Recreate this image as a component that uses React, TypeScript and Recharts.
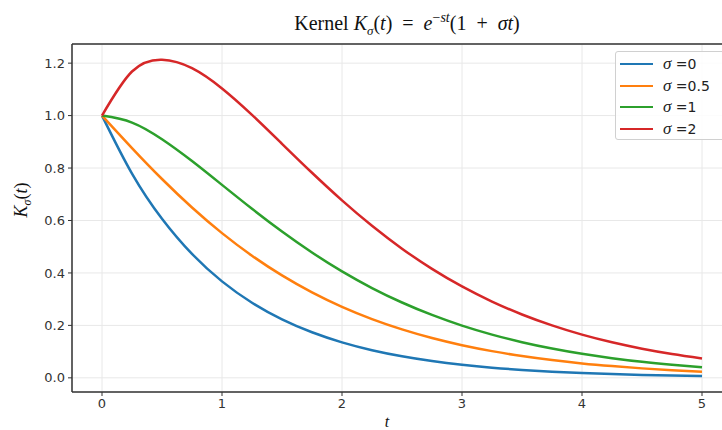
import React from "react";
import { LineChart, Line, XAxis, YAxis, CartesianGrid, ReferenceLine, Legend, Label } from "recharts";

const tValues = [0, 0.25, 0.5, 0.75, 1, 1.25, 1.5, 1.75, 2, 2.25, 2.5, 2.75, 3, 3.25, 3.5, 3.75, 4, 4.25, 4.5, 4.75, 5];
const sigma0 = [1, 0.7788, 0.6065, 0.4724, 0.3679, 0.2865, 0.2231, 0.1738, 0.1353, 0.1054, 0.0821, 0.0639, 0.0498, 0.0388, 0.0302, 0.0235, 0.0183, 0.0143, 0.0111, 0.0087, 0.0067];
const sigma05 = [1, 0.8762, 0.7582, 0.6496, 0.5518, 0.4656, 0.3905, 0.3259, 0.2707, 0.224, 0.1847, 0.1518, 0.1245, 0.1019, 0.083, 0.0676, 0.0549, 0.0447, 0.0361, 0.0294, 0.0236];
const sigma1 = [1, 0.9735, 0.9098, 0.8267, 0.7358, 0.6446, 0.5578, 0.4779, 0.406, 0.3425, 0.2873, 0.2398, 0.1991, 0.1649, 0.1359, 0.1117, 0.0916, 0.0751, 0.0611, 0.05, 0.0404];
const sigma2 = [1, 1.1682, 1.2131, 1.181, 1.1036, 1.0028, 0.8925, 0.782, 0.6767, 0.5797, 0.4925, 0.4156, 0.3485, 0.2909, 0.2416, 0.2, 0.1648, 0.1355, 0.1111, 0.0909, 0.0741];

const xTicks = [0, 1, 2, 3, 4, 5];
const yTicks = [0, 0.2, 0.4, 0.6, 0.8, 1.0, 1.2];

const seriesInfo = [
  { key: "s0", label: "=0", color: "#1f77b4", values: sigma0 },
  { key: "s05", label: "=0.5", color: "#ff7f0e", values: sigma05 },
  { key: "s1", label: "=1", color: "#2ca02c", values: sigma1 },
  { key: "s2", label: "=2", color: "#d62728", values: sigma2 },
];

const data = tValues.map((t, i) => {
  const row: any = { t };
  seriesInfo.forEach((s) => (row[s.key] = s.values[i]));
  return row;
});

const tickStyle = { fontFamily: "DejaVu Sans", fontSize: 13, fill: "#333" };
const mathFont = "'Liberation Serif', serif";

const LegendBox = () => (
  <div
    style={{
      position: "absolute",
      left: 615,
      top: 51,
      width: 130,
      height: 89,
      border: "1px solid #d0d0d0",
      borderRadius: 3,
      background: "rgba(255,255,255,0.85)",
      boxSizing: "border-box",
    }}
  >
    {seriesInfo.map((s, i) => (
      <div key={s.key} style={{ position: "absolute", left: 4, top: 3 + i * 21.7, height: 18, display: "flex", alignItems: "center" }}>
        <div style={{ width: 33, height: 0, borderTop: `2.5px solid ${s.color}` }} />
        <span style={{ marginLeft: 10, fontSize: 14, color: "#222", whiteSpace: "nowrap" }}>
          <span style={{ fontFamily: mathFont, fontStyle: "italic", fontSize: 17 }}>σ</span>
          <span style={{ fontFamily: "DejaVu Sans" }}> {s.label}</span>
        </span>
      </div>
    ))}
  </div>
);

const YLabel = () => (
  <text x={27} y={200} transform="rotate(-90, 27, 200)" textAnchor="middle" fontFamily={mathFont} fontSize={18} fill="#111">
    <tspan fontStyle="italic">K</tspan>
    <tspan fontStyle="italic" fontSize={12} dy={4}>σ</tspan>
    <tspan dy={-4}>(</tspan>
    <tspan fontStyle="italic">t</tspan>
    <tspan>)</tspan>
  </text>
);

export default function App() {
  return (
    <div style={{ position: "absolute", left: 0, top: 0, width: 722, height: 430, overflow: "hidden", background: "#fff" }}>
      <div
        style={{
          position: "absolute",
          left: 0,
          width: 814,
          top: 10,
          textAlign: "center",
          fontFamily: mathFont,
          fontSize: 20,
          color: "#111",
          whiteSpace: "nowrap",
        }}
      >
        Kernel&nbsp;<i>K</i>
        <sub style={{ fontSize: 13 }}><i>σ</i></sub>(<i>t</i>)&nbsp;&nbsp;=&nbsp;&nbsp;<i>e</i>
        <sup style={{ fontSize: 14 }}>−<i>st</i></sup>(1&nbsp;&nbsp;+&nbsp;&nbsp;<i>σt</i>)
      </div>
      <LineChart width={740} height={430} data={data} margin={{ top: 44, right: 8, left: 0, bottom: 0 }}>
        <CartesianGrid stroke="#e8e8e8" strokeWidth={1} />
        <XAxis
          dataKey="t"
          type="number"
          domain={[-0.25, 5.25]}
          ticks={xTicks}
          allowDataOverflow
          height={38}
          tick={tickStyle}
          tickSize={4}
          tickLine={{ stroke: "#333" }}
          axisLine={{ stroke: "#333", strokeWidth: 1.5 }}
          tickMargin={3}
        >
          <Label
            content={() => (
              <text x={387} y={427} textAnchor="middle" fontFamily={mathFont} fontStyle="italic" fontSize={16} fill="#111">
                t
              </text>
            )}
          />
        </XAxis>
        <YAxis
          type="number"
          domain={[-0.054, 1.273]}
          ticks={yTicks}
          allowDataOverflow
          width={72}
          tick={tickStyle}
          tickSize={4}
          tickLine={{ stroke: "#333" }}
          axisLine={{ stroke: "#333", strokeWidth: 1.5 }}
          tickMargin={3}
          tickFormatter={(v: number) => v.toFixed(1)}
        >
          <Label content={YLabel} />
        </YAxis>
        <ReferenceLine y={1.273} stroke="#333" strokeWidth={1.5} ifOverflow="extendDomain" />
        {seriesInfo.map((s) => (
          <Line
            key={s.key}
            dataKey={s.key}
            type="natural"
            stroke={s.color}
            strokeWidth={2.5}
            dot={false}
            isAnimationActive={false}
          />
        ))}
        <Legend content={() => null} />
      </LineChart>
      <LegendBox />
    </div>
  );
}
